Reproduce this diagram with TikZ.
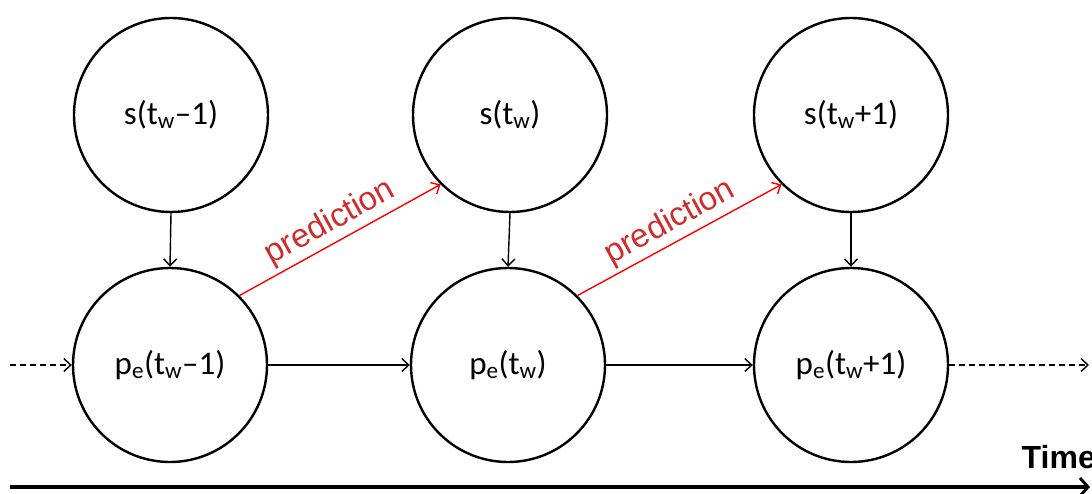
\documentclass[tikz,border=0pt]{standalone}
\usepackage{fontspec}
\setmainfont{Carlito}
\newfontfamily\arialf{Liberation Sans}
\usetikzlibrary{arrows.meta}
\definecolor{predtext}{RGB}{205,45,45}
\tikzset{
  st/.style={circle, draw=black, line width=2.4pt, minimum size=194pt, inner sep=0pt, font=\fontsize{33}{36}\selectfont},
  conn/.style={line width=1.4pt, -{Straight Barb[length=7pt,width=13pt,line width=1.4pt]}},
  dconn/.style={conn, dash pattern=on 6pt off 4pt},
  pred/.style={line width=1.4pt, draw=red, -{Straight Barb[length=7pt,width=13pt,line width=1.4pt]}},
  predlab/.style={text=predtext, font=\arialf\fontsize{33}{36}\selectfont, sloped, above, inner sep=4pt},
}
\begin{document}
\begin{tikzpicture}[x=1pt,y=-1pt]
\useasboundingbox (0,0) rectangle (1092,494);
\node[st] (s1) at (171,115) {s(t\textsubscript{w}–1)};
\node[st] (s2) at (510,115) {s(t\textsubscript{w})};
\node[st] (s3) at (851,115) {s(t\textsubscript{w}+1)};
\node[st] (p1) at (170,365) {p\textsubscript{e}(t\textsubscript{w}–1)};
\node[st] (p2) at (508,365) {p\textsubscript{e}(t\textsubscript{w})};
\node[st] (p3) at (851,365) {p\textsubscript{e}(t\textsubscript{w}+1)};
\coordinate (lin) at (10,365);
\coordinate (rout) at (1089,365);
\coordinate (t0) at (10,487);
\coordinate (t1) at (1090,487);
\draw[conn] (s1.south) -- (p1.north);
\draw[conn] (s2.south) -- (p2.north);
\draw[conn] (s3.south) -- (p3.north);
\draw[conn] (p1) -- (p2);
\draw[conn] (p2) -- (p3);
\draw[dconn] (lin) -- (p1.west);
\draw[dconn] (p3.east) -- (rout);
\draw[pred] (p1.45) -- node[predlab] {prediction} (s2.225);
\draw[pred] (p2.45) -- node[predlab] {prediction} (s3.225);
\draw[line width=4.5pt, -{Straight Barb[length=8pt,width=18pt,line width=3pt]}] (t0) -- (t1);
\node[font=\arialf\bfseries\fontsize{32}{36}\selectfont, anchor=east, inner sep=0pt] (time) at (1096,457) {Time};
\end{tikzpicture}
\end{document}
